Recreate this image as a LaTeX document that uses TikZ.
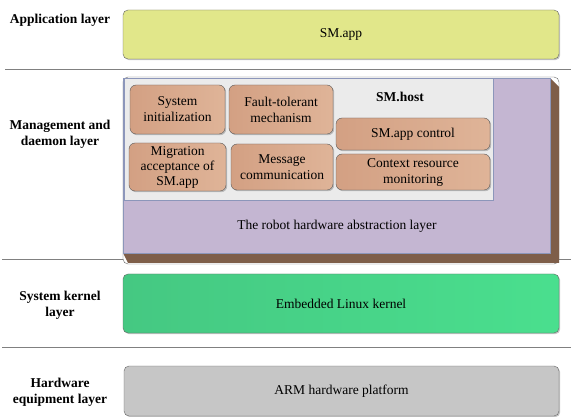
\documentclass[tikz,border=0pt]{standalone}
\usepackage{fontspec}
\setmainfont{Liberation Serif}
\usetikzlibrary{shadows}
\definecolor{appcol}{HTML}{E1E78A}
\definecolor{kernL}{HTML}{45C882}
\definecolor{kernR}{HTML}{4ADF8E}
\definecolor{hwcol}{HTML}{C6C6C6}
\definecolor{modL}{HTML}{D3A083}
\definecolor{modR}{HTML}{DFB498}
\definecolor{purp}{HTML}{C4B6D2}
\definecolor{purpline}{HTML}{8C96BA}
\definecolor{panel}{HTML}{EBEBEB}
\definecolor{brownside}{HTML}{7E5E49}
\tikzset{
  txt/.style={font=\fontsize{13.5}{16}\selectfont, align=center},
  lbl/.style={txt, font=\fontsize{13.5}{16}\selectfont\bfseries},
  layerbox/.style={txt, draw=gray!80!black, rounded corners=5pt, minimum width=436pt,
    drop shadow={shadow xshift=1.2pt, shadow yshift=-1.2pt, opacity=0.45}},
  modbox/.style={txt, draw=gray!70!black, rounded corners=6pt, left color=modL, right color=modR,
    inner sep=1pt, drop shadow={shadow xshift=1.2pt, shadow yshift=-1.2pt, opacity=0.45}},
  sepline/.style={draw=gray, line width=0.9pt}
}
\begin{document}
\begin{tikzpicture}[x=1pt,y=-1pt]
        \useasboundingbox (0,0) rectangle (571,417);
        \fill[white] (0,0) rectangle (571,417);
        \draw[sepline] (5,69) -- (571,69);
        \draw[sepline] (2,259) -- (571,259);
        \draw[sepline] (2,347) -- (571,347);

        \node[lbl] (applbl) at (60,20) {Application layer};
        \node[lbl] (mgtlbl) at (60,134) {Management and\\daemon layer};
        \node[lbl] (kernlbl) at (60,305.5) {System kernel\\layer};
        \node[lbl] (hwlbl) at (60,392) {Hardware\\equipment layer};

        \node[layerbox, fill=appcol, minimum height=49pt] (app) at (341,34.5) {SM.app};

        \draw[draw=gray!80!black, fill=white, rounded corners=5pt] (123,77) rectangle (559,264);
        \fill[brownside] (123,253) -- (550,253) -- (550,78) -- (559,87) -- (559,263) -- (128,263) -- cycle;
        \draw[draw=purpline, fill=purp] (123,78) rectangle (550,253);
        \draw[draw=purpline, fill=panel] (124,78) rectangle (493,200);
        \node[txt] (hal) at (337,226) {The robot hardware abstraction layer};
        \node[lbl] (host) at (400,97) {SM.host};

        \node[modbox, minimum width=95pt, minimum height=49pt] (sysinit) at (177.5,109.5) {System\\initialization};
        \node[modbox, minimum width=104pt, minimum height=49pt] (fault) at (281,109.5) {Fault-tolerant\\mechanism};
        \node[modbox, minimum width=97pt, minimum height=48pt, font=\fontsize{13.5}{15}\selectfont] (migr) at (177.5,167) {Migration\\acceptance of\\SM.app};
        \node[modbox, minimum width=102pt, minimum height=46pt] (msg) at (282,167) {Message\\communication};
        \node[modbox, minimum width=154pt, minimum height=32pt] (appctl) at (413,134) {SM.app control};
        \node[modbox, minimum width=154pt, minimum height=36pt] (ctx) at (413,172) {Context resource\\monitoring};

        \node[layerbox, left color=kernL, right color=kernR, minimum height=59pt] (kern) at (341,303.5) {Embedded Linux kernel};
        \node[layerbox, fill=hwcol, minimum width=435pt, minimum height=50pt] (hw) at (341.5,391) {ARM hardware platform};
      \end{tikzpicture}
\end{document}
